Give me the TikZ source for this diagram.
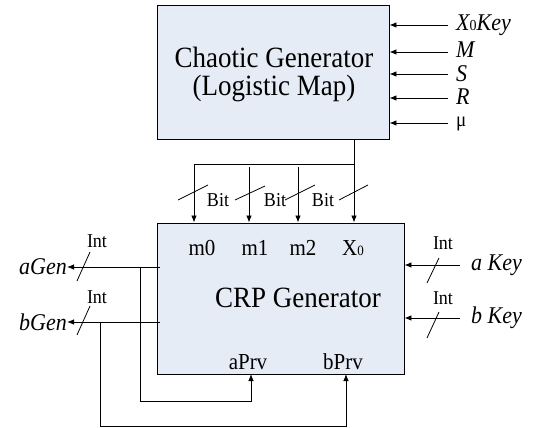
\documentclass[tikz,border=0pt]{standalone}
\usepackage{fontspec}
\usepackage{graphicx}
\setmainfont{Liberation Serif}
\usetikzlibrary{arrows.meta}
\definecolor{boxfill}{RGB}{230,236,246}
\newcommand\vstr[1]{\scalebox{1}[1.09]{#1}}
\tikzset{
  blk/.style={draw, fill=boxfill, line width=0.9pt, inner sep=0pt},
  ln/.style={line width=0.8pt},
  arr/.style={ln, -{Latex[length=7pt,width=5.5pt]}},
  big/.style={font=\fontsize{27}{31}\selectfont, inner sep=0pt},
  lbl/.style={font=\fontsize{21}{23}\selectfont, inner sep=0pt},
  ilbl/.style={font=\fontsize{22}{24}\selectfont\itshape, inner sep=0pt},
  small/.style={font=\fontsize{18}{20}\selectfont, inner sep=0pt},
}
\begin{document}
\begin{tikzpicture}[x=1pt,y=-1pt]
\useasboundingbox (0,0) rectangle (539,428);
% boxes
\node[blk, minimum width=232pt, minimum height=134pt] (cg) at (273,72) {};
\node[big] (cgt1) at (274,57) {\vstr{Chaotic Generator}};
\node[big] (cgt2) at (274,88) {\vstr{(Logistic Map)}};
\node[blk, minimum width=247pt, minimum height=151pt] (crp) at (280.5,298.5) {};
\node[big] (crpt) at (298,298) {\vstr{CRP Generator}};
% top inputs
\node[ilbl, anchor=west] (kx) at (456,25) {\vstr{X{\upshape\fontsize{14}{14}\selectfont 0}Key}};
\node[ilbl, anchor=west] (km) at (456,50) {\vstr{M}};
\node[ilbl, anchor=west] (ks) at (456,74) {\vstr{S}};
\node[ilbl, anchor=west] (kr) at (456,97) {\vstr{R}};
\node[ilbl, anchor=west] (ku) at (456,124) {\vstr{\upshape\fontsize{19}{20}\selectfont μ}};
\foreach \k/\y in {kx/25,km/52,ks/74,kr/98,ku/123}{
  \coordinate (\k s) at (448,\y);
  \draw[arr] (\k s) -- (\k s -| cg.east);
}
% bit bus
\coordinate (j) at (354,164);
\coordinate (t0) at (194,164);
\coordinate (t1) at (249,167);
\coordinate (t2) at (298,167);
\draw[ln] (cg.south -| j) -- (j) -- (t0);
\draw[arr] (t0) -- (t0 |- crp.north);
\draw[arr] (t1) -- (t1 |- crp.north);
\draw[arr] (t2) -- (t2 |- crp.north);
\draw[arr] (cg.south -| j) -- (j |- crp.north);
\draw[ln] (178,200) -- (208,185);
\draw[ln] (235,200) -- (265,186);
\draw[ln] (285,200) -- (315,185);
\draw[ln] (339,200) -- (368,185);
\node[small] (b1) at (218,200) {\vstr{Bit}};
\node[small] (b2) at (275,200) {\vstr{Bit}};
\node[small] (b3) at (323,200) {\vstr{Bit}};
% port labels
\node[lbl] (m0) at (202,248) {\vstr{m0}};
\node[lbl] (m1) at (255,248) {\vstr{m1}};
\node[lbl] (m2) at (303,248) {\vstr{m2}};
\node[lbl] (x0) at (353,248) {\vstr{X{\fontsize{13}{13}\selectfont 0}}};
\node[lbl] (ap) at (248,362) {\vstr{aPrv}};
\node[lbl] (bp) at (343,362) {\vstr{bPrv}};
% outputs
\node[ilbl, anchor=east] (ag) at (67,267) {\vstr{aGen}};
\node[ilbl, anchor=east] (bg) at (67,322) {\vstr{bGen}};
\coordinate (ago) at (160,267);
\coordinate (bgo) at (160,322);
\draw[arr] (ago) -- (ag.east);
\draw[arr] (bgo) -- (bg.east);
\draw[ln] (77,281) -- (90,252);
\draw[ln] (77,335) -- (90,306);
\node[small] (i1) at (97,241) {\vstr{Int}};
\node[small] (i2) at (97,297) {\vstr{Int}};
% feedback
\coordinate (fa) at (140,267);
\coordinate (fb) at (100,322);
\coordinate (pa) at (251,374);
\coordinate (pb) at (346,374);
\draw[arr] (fa) -- ++(0,134) -| (pa);
\draw[arr] (fb) -- ++(0,104) -| (pb);
% right inputs
\node[ilbl, anchor=west] (ak) at (471,265) {\vstr{a Key}};
\node[ilbl, anchor=west] (bk) at (471,318) {\vstr{b Key}};
\coordinate (aks) at (460,265);
\coordinate (bks) at (460,318);
\draw[arr] (aks) -- (aks -| crp.east);
\draw[arr] (bks) -- (bks -| crp.east);
\draw[ln] (427,283) -- (439,258);
\draw[ln] (427,338) -- (439,312);
\node[small] (i3) at (443,243) {\vstr{Int}};
\node[small] (i4) at (443,298) {\vstr{Int}};
\end{tikzpicture}
\end{document}
